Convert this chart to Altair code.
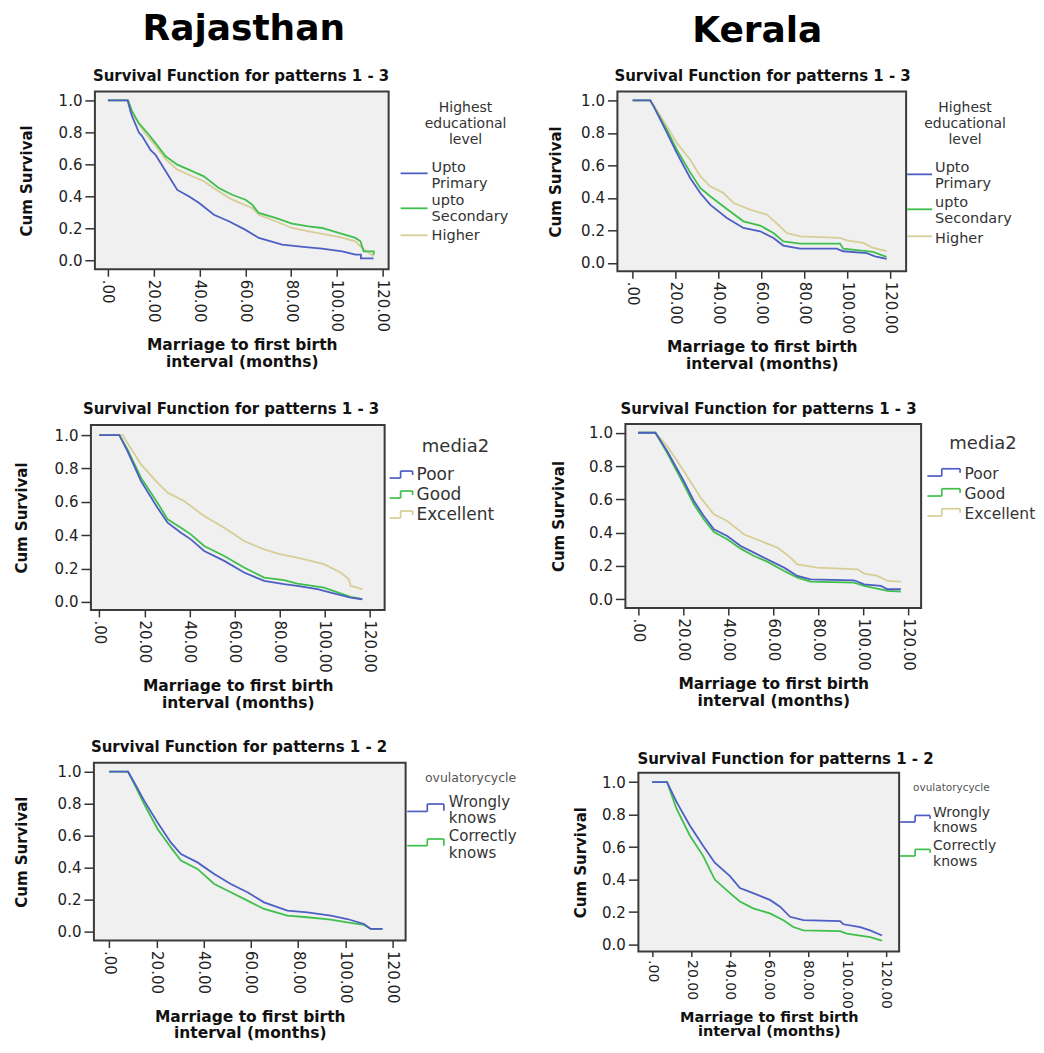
import altair as alt
import pandas as pd

FONT = "DejaVu Sans"
BLUE = "#4d5ec4"
GREEN = "#3fbf4b"
TAN = "#d6cd97"
FRAME_FILL = "#f0f0f0"
FRAME_STROKE = "#3a3a3a"

X_TICKS = [0, 20, 40, 60, 80, 100, 120]
Y_TICKS = [0.0, 0.2, 0.4, 0.6, 0.8, 1.0]
X_TITLE = ["Marriage to first birth", "interval (months)"]
Y_TITLE = "Cum Survival"

# ---------------- Rajasthan : Highest educational level ----------------
RE_PRIM_T = [0, 8.6, 9.9, 10.6, 13.5, 15.0, 18.6, 20.8, 26.6, 30.3, 35.3, 39.7, 46.3, 52.8, 60.1,
             65.9, 76.1, 86.3, 93.5, 102.3, 108.1, 110.5, 110.5, 116.0]
RE_PRIM_S = [1.0, 1.0, 0.93, 0.90, 0.80, 0.775, 0.69, 0.66, 0.525, 0.44, 0.40, 0.36, 0.285, 0.244, 0.19,
             0.14, 0.098, 0.083, 0.073, 0.056, 0.035, 0.035, 0.012, 0.012]
RE_SEC_T = [0, 8.8, 10.6, 13.5, 17.9, 20.8, 25.2, 30.3, 35.3, 41.9, 48.4, 54.3, 60.1, 63.0, 65.9, 73.2,
            80.4, 87.7, 93.5, 100.8, 108.1, 110.3, 111.7, 116.1, 116.1]
RE_SEC_S = [1.0, 1.0, 0.93, 0.858, 0.785, 0.733, 0.65, 0.598, 0.567, 0.525, 0.452, 0.41, 0.379, 0.348,
            0.296, 0.265, 0.229, 0.2125, 0.202, 0.171, 0.14, 0.119, 0.056, 0.056, 0.035]
RE_HIGH_T = [0, 8.8, 10.6, 13.5, 17.9, 20.8, 25.2, 30.3, 35.3, 41.9, 48.4, 54.3, 63.0, 65.9, 73.2, 80.4,
             87.7, 100.8, 108.1, 111.0, 116.1]
RE_HIGH_S = [1.0, 1.0, 0.93, 0.85, 0.765, 0.717, 0.633, 0.567, 0.535, 0.494, 0.431, 0.379, 0.327, 0.285,
             0.244, 0.202, 0.181, 0.146, 0.119, 0.077, 0.025]

# ---------------- Kerala : Highest educational level ----------------
KE_PRIM_T = [0, 8.2, 9.8, 16.0, 20.6, 26.8, 31.5, 36.1, 43.9, 51.6, 59.4, 65.6, 70.2, 78.0, 95.0, 98.1,
             109.0, 112.9, 118.3]
KE_PRIM_S = [1.0, 1.0, 0.963, 0.80, 0.676, 0.523, 0.43, 0.359, 0.277, 0.215, 0.195, 0.154, 0.107, 0.088,
             0.088, 0.072, 0.061, 0.041, 0.025]
KE_SEC_T = [0, 8.2, 9.8, 16.0, 20.6, 26.8, 31.5, 36.1, 43.9, 51.6, 59.4, 65.6, 70.2, 78.0, 96.6, 98.1,
            112.0, 118.3]
KE_SEC_S = [1.0, 1.0, 0.963, 0.816, 0.697, 0.557, 0.461, 0.41, 0.332, 0.256, 0.23, 0.184, 0.133, 0.119,
            0.119, 0.088, 0.068, 0.037]
KE_HIGH_T = [0, 8.2, 9.8, 16.0, 20.6, 26.8, 31.5, 36.1, 42.3, 47.0, 54.7, 62.5, 68.7, 71.8, 78.0, 96.6,
             99.7, 107.4, 112.0, 118.3]
KE_HIGH_S = [1.0, 1.0, 0.97, 0.84, 0.738, 0.635, 0.533, 0.471, 0.43, 0.369, 0.328, 0.297, 0.225, 0.184,
             0.164, 0.154, 0.139, 0.123, 0.092, 0.072]

# ---------------- Rajasthan : media2 ----------------
RM_POOR_T = [0, 8.9, 12.5, 18.5, 25.8, 30.3, 36.2, 40.6, 46.5, 55.4, 64.2, 73.1, 81.9, 87.8, 96.7, 102.6,
             111.4, 116.6]
RM_POOR_S = [1.0, 1.0, 0.904, 0.725, 0.565, 0.475, 0.415, 0.375, 0.305, 0.246, 0.176, 0.126, 0.106, 0.096,
             0.076, 0.056, 0.026, 0.016]
RM_GOOD_T = [0, 8.9, 12.5, 18.5, 25.8, 30.3, 36.2, 40.6, 46.5, 55.4, 64.2, 73.1, 81.9, 87.8, 99.6, 111.4,
             116.6]
RM_GOOD_S = [1.0, 1.0, 0.914, 0.745, 0.595, 0.495, 0.445, 0.405, 0.335, 0.275, 0.206, 0.146, 0.13, 0.11,
             0.086, 0.03, 0.016]
RM_EXC_T = [0, 10.3, 18.5, 25.8, 30.3, 37.6, 46.5, 55.4, 64.2, 73.1, 80.4, 87.8, 99.6, 107.0, 110.7, 111.4,
            116.6]
RM_EXC_S = [1.0, 1.0, 0.824, 0.715, 0.655, 0.605, 0.515, 0.445, 0.365, 0.315, 0.285, 0.265, 0.226, 0.176,
            0.136, 0.096, 0.076]

# ---------------- Kerala : media2 ----------------
KM_POOR_T = [0, 7.7, 12.9, 20.3, 24.8, 29.2, 33.7, 39.6, 45.6, 51.5, 57.4, 64.9, 70.8, 76.7, 96.0, 100.5,
             107.9, 110.9, 116.8]
KM_POOR_S = [1.0, 1.0, 0.89, 0.71, 0.59, 0.50, 0.42, 0.38, 0.32, 0.28, 0.24, 0.19, 0.14, 0.12, 0.114, 0.09,
             0.08, 0.06, 0.06]
KM_GOOD_T = [0, 7.7, 12.9, 20.3, 24.8, 29.2, 33.7, 39.6, 45.6, 51.5, 57.4, 64.9, 70.8, 76.7, 96.0, 100.5,
             110.9, 116.8]
KM_GOOD_S = [1.0, 1.0, 0.88, 0.69, 0.57, 0.48, 0.404, 0.36, 0.304, 0.26, 0.226, 0.17, 0.13, 0.106, 0.10,
             0.08, 0.05, 0.046]
KM_EXC_T = [0, 7.7, 12.9, 20.3, 27.8, 33.7, 39.6, 47.0, 54.5, 61.9, 67.8, 70.8, 79.7, 97.5, 100.5, 106.4,
            110.9, 116.8]
KM_EXC_S = [1.0, 1.0, 0.92, 0.77, 0.61, 0.51, 0.47, 0.39, 0.35, 0.31, 0.25, 0.21, 0.19, 0.18, 0.154, 0.14,
            0.11, 0.106]

# ---------------- Rajasthan : ovulatorycycle ----------------
RO_WRONG_T = [0, 8.0, 10.6, 14.8, 20.5, 26.1, 30.4, 37.4, 44.5, 51.5, 58.6, 65.6, 75.5, 84.0, 93.9, 100.9,
              108.0, 110.8, 115.8]
RO_WRONG_S = [1.0, 1.0, 0.933, 0.819, 0.683, 0.558, 0.485, 0.433, 0.36, 0.298, 0.246, 0.183, 0.131, 0.121,
              0.10, 0.079, 0.048, 0.017, 0.017]
RO_CORR_T = [0, 8.0, 10.6, 14.8, 20.5, 26.1, 30.4, 37.4, 44.5, 51.5, 58.6, 65.6, 75.5, 84.0, 93.9, 100.9,
             108.0, 110.8, 115.8]
RO_CORR_S = [1.0, 1.0, 0.925, 0.798, 0.642, 0.527, 0.444, 0.392, 0.298, 0.246, 0.194, 0.142, 0.10, 0.09,
             0.075, 0.058, 0.042, 0.017, 0.017]

# ---------------- Kerala : ovulatorycycle ----------------
KO_WRONG_T = [0, 7.7, 12.5, 19.4, 26.2, 32.2, 40.0, 45.1, 51.9, 60.5, 65.7, 70.8, 77.7, 96.5, 98.2, 106.8,
              111.9, 118.0]
KO_WRONG_S = [1.0, 1.0, 0.879, 0.733, 0.608, 0.504, 0.421, 0.348, 0.317, 0.275, 0.233, 0.171, 0.15, 0.144,
              0.125, 0.108, 0.0875, 0.056]
KO_CORR_T = [0, 7.7, 12.5, 19.4, 26.2, 32.2, 40.0, 45.1, 51.9, 60.5, 67.4, 72.5, 77.7, 96.5, 99.9, 111.9,
             118.0]
KO_CORR_S = [1.0, 1.0, 0.8375, 0.671, 0.546, 0.40, 0.317, 0.265, 0.223, 0.192, 0.15, 0.108, 0.0875, 0.083,
             0.067, 0.046, 0.025]

ONE = pd.DataFrame({"k": [0]})

# grid cells (column widths, row heights)
COL_W = [315, 304]
ROW_H = [180, 186, 189]


def curves_df(series):
    rows = []
    for name, ts, ss in series:
        for i, (t, s) in enumerate(zip(ts, ss)):
            rows.append({"t": t, "s": s, "g": name, "i": i})
    return pd.DataFrame(rows)


def txt(x, y, s, size, color="#333333", align="left", weight="normal"):
    return alt.Chart(ONE).mark_text(
        text=s, align=align, baseline="middle", font=FONT, fontSize=size,
        fontWeight=weight, color=color
    ).encode(x=alt.value(x), y=alt.value(y))


def seg(x1, y1, x2, y2, color, w=1.7, opacity=1.0):
    return alt.Chart(ONE).mark_rule(color=color, strokeWidth=w, opacity=opacity).encode(
        x=alt.value(x1), y=alt.value(y1), x2=alt.value(x2), y2=alt.value(y2))


class Frame:
    """Places legend pieces relative to a panel frame's top-left corner."""

    def __init__(self, dx, dy):
        self.dx, self.dy = dx, dy

    def t(self, x, y, s, size, **kw):
        return txt(self.dx + x, self.dy + y, s, size, **kw)

    def s(self, x1, y1, x2, y2, color, **kw):
        return seg(self.dx + x1, self.dy + y1, self.dx + x2, self.dy + y2, color, **kw)

    def step(self, x0, xm, x2, ylow, ytop, ydrop, color):
        return [self.s(x0, ylow, xm, ylow, color), self.s(xm, ylow, xm, ytop, color),
                self.s(xm, ytop, x2, ytop, color), self.s(x2, ytop, x2, ydrop, color)]


def panel(series, colors, cw, ch, dx, dy, w, h, xdom, ydom, ytp, title, tx, ty, extras,
          xl=15, xt=15.5, xpad=6, xlh=17, xtick=7):
    df = curves_df(series)
    names = [s[0] for s in series]
    x_axis = alt.Axis(
        values=X_TICKS, labelExpr="datum.value == 0 ? '.00' : format(datum.value, '.2f')",
        labelAngle=90, labelAlign="left", labelBaseline="middle", labelFont=FONT, labelFontSize=xl,
        labelColor="#222222", labelPadding=3, labelFlush=False, labelOverlap=False,
        tickSize=xtick, tickColor="#333333", tickWidth=1.5, domain=False, grid=False,
        offset=(dy + h) - ch,
        title=X_TITLE, titleFont=FONT, titleFontSize=xt, titleFontWeight="bold",
        titleColor="#111111", titlePadding=xpad, titleLineHeight=xlh)
    y_axis = alt.Axis(
        values=Y_TICKS, format=".1f", labelFont=FONT, labelFontSize=15, labelColor="#222222",
        labelPadding=3, labelFlush=False, tickSize=10, tickColor="#333333", tickWidth=1.5,
        domain=False, grid=False, offset=-dx,
        title=Y_TITLE, titleFont=FONT, titleFontSize=15,
        titleFontWeight="bold", titleColor="#111111", titlePadding=ytp)
    frame = alt.Chart(ONE).mark_rect(fill=FRAME_FILL, stroke=FRAME_STROKE, strokeWidth=2).encode(
        x=alt.value(dx), x2=alt.value(dx + w), y=alt.value(dy), y2=alt.value(dy + h))
    lines = alt.Chart(df).mark_line(strokeWidth=1.8).encode(
        x=alt.X("t:Q", scale=alt.Scale(domain=xdom, range=[dx, dx + w], nice=False, zero=False),
                axis=x_axis),
        y=alt.Y("s:Q", scale=alt.Scale(domain=ydom, range=[dy + h, dy], nice=False, zero=False),
                axis=y_axis),
        color=alt.Color("g:N", scale=alt.Scale(domain=names, range=colors), legend=None),
        order=alt.Order("i:Q"))
    layers = [frame, lines, txt(dx + tx, dy + ty, title, 15, color="#111111", weight="bold")] + extras
    return alt.layer(*layers).properties(
        width=cw, height=ch,
        view=alt.ViewBackground(fill="transparent", stroke="transparent"))


def edu_legend(f, cx, ty, lx0, lx1, tx, ys_line, ys_text):
    out = [f.t(cx, ty - 1, "Highest", 14, align="center"),
           f.t(cx, ty + 15, "educational", 14, align="center"),
           f.t(cx, ty + 31, "level", 14, align="center")]
    for yl, c in zip(ys_line, [BLUE, GREEN, TAN]):
        out.append(f.s(lx0, yl, lx1, yl, c, w=1.8))
    labels = ["Upto", "Primary", "upto", "Secondary", "Higher"]
    for y, s in zip(ys_text, labels):
        out.append(f.t(tx, y, s, 14.5))
    return out


# ---------------- panels ----------------
# P1 : Rajasthan / education   cell (90, 90)  frame (94, 90) 294 x 178
f1 = Frame(4, 0)
p1_ext = edu_legend(f1, 371, 18, 306, 333, 337, [82, 117, 144], [76.5, 92.5, 110, 126, 145])
p1_ext += [f1.t(149, -62, "Rajasthan", 36, color="#000000", align="center", weight="bold"),
           seg(-82, -82, -81, -81, "#ffffff", w=0.5, opacity=0)]
P1 = panel([("Higher", RE_HIGH_T, RE_HIGH_S), ("upto Secondary", RE_SEC_T, RE_SEC_S),
            ("Upto Primary", RE_PRIM_T, RE_PRIM_S)], [TAN, GREEN, BLUE],
           COL_W[0], ROW_H[0], 4, 0, 294, 178, [-5.67, 122.6], [-0.056, 1.056], 24,
           "Survival Function for patterns 1 - 3", -2, -15, p1_ext)

# P2 : Kerala / education   cell (617, 90)  frame (617, 90) 289 x 180
f2 = Frame(0, 0)
p2_ext = edu_legend(f2, 348, 18, 290, 315, 318, [83, 118, 145], [77, 93, 112, 128, 148])
p2_ext += [f2.t(140, -60, "Kerala", 36, color="#000000", align="center", weight="bold")]
P2 = panel([("Higher", KE_HIGH_T, KE_HIGH_S), ("upto Secondary", KE_SEC_T, KE_SEC_S),
            ("Upto Primary", KE_PRIM_T, KE_PRIM_S)], [TAN, GREEN, BLUE],
           COL_W[1], ROW_H[0], 0, 0, 289, 180, [-7.1, 127.4], [-0.051, 1.055], 17,
           "Survival Function for patterns 1 - 3", -3, -15, p2_ext)

# P3 : Rajasthan / media   cell (90, 423)  frame (90, 424) 294 x 185
f3 = Frame(0, 1)
p3_ext = [f3.t(365, 22, "media2", 18, align="center")]
for dy_, c, lab in [(0, BLUE, "Poor"), (20, GREEN, "Good"), (40, TAN, "Excellent")]:
    p3_ext += f3.step(299, 310, 322, 53 + dy_, 46 + dy_, 50 + dy_, c)
    p3_ext.append(f3.t(326, 50 + dy_, lab, 17))
P3 = panel([("Excellent", RM_EXC_T, RM_EXC_S), ("Good", RM_GOOD_T, RM_GOOD_S),
            ("Poor", RM_POOR_T, RM_POOR_S)], [TAN, GREEN, BLUE],
           COL_W[0], ROW_H[1], 0, 1, 294, 185, [-3.7, 126.5], [-0.048, 1.06], 25,
           "Survival Function for patterns 1 - 3", -8, -16, p3_ext)

# P4 : Kerala / media   cell (617, 423)  frame (625, 423) 296 x 184
f4 = Frame(8, 0)
p4_ext = [f4.t(358, 19.7, "media2", 18, align="center")]
for dy_, c, lab in [(0, BLUE, "Poor"), (20, GREEN, "Good"), (40, TAN, "Excellent")]:
    p4_ext += f4.step(302.3, 316.7, 335, 52 + dy_, 44.7 + dy_, 48.7 + dy_, c)
    p4_ext.append(f4.t(339.5, 49.7 + dy_, lab, 15.5))
P4 = panel([("Excellent", KM_EXC_T, KM_EXC_S), ("Good", KM_GOOD_T, KM_GOOD_S),
            ("Poor", KM_POOR_T, KM_POOR_S)], [TAN, GREEN, BLUE],
           COL_W[1], ROW_H[1], 8, 0, 296, 184, [-5.64, 125.8], [-0.052, 1.052], 22,
           "Survival Function for patterns 1 - 3", -5, -15, p4_ext)

# P5 : Rajasthan / ovulatory cycle   cell (90, 762)  frame (93, 762) 312 x 178
f5 = Frame(3, 0)
p5_ext = [f5.t(377, 15.3, "ovulatorycycle", 12.5, color="#555555", align="center")]
p5_ext += f5.step(313.7, 333.7, 350.3, 48.7, 41.3, 48, BLUE)
p5_ext += f5.step(313.7, 333.7, 350.3, 83, 76.3, 83, GREEN)
p5_ext += [f5.t(355.3, 39, "Wrongly", 15), f5.t(355.3, 55.5, "knows", 15),
           f5.t(355.3, 73.5, "Correctly", 15), f5.t(355.3, 90, "knows", 15)]
P5 = panel([("Correctly knows", RO_CORR_T, RO_CORR_S), ("Wrongly knows", RO_WRONG_T, RO_WRONG_S)],
           [GREEN, BLUE], COL_W[0], ROW_H[2], 3, 0, 312, 178, [-6.48, 125.6], [-0.056, 1.056], 28,
           "Survival Function for patterns 1 - 2", -3, -16, p5_ext)

# P6 : Kerala / ovulatory cycle   cell (617, 762)  frame (638, 772) 261 x 179
f6 = Frame(21, 10)
p6_ext = [f6.t(313.3, 15, "ovulatorycycle", 10.5, color="#555555", align="center")]
p6_ext += f6.step(262, 277, 292, 49.3, 42.7, 46, BLUE)
p6_ext += f6.step(262, 277, 292, 83.3, 76.7, 80, GREEN)
p6_ext += [f6.t(295, 40, "Wrongly", 14), f6.t(295, 55.5, "knows", 14),
           f6.t(295, 73.5, "Correctly", 14), f6.t(295, 89, "knows", 14)]
P6 = panel([("Correctly knows", KO_CORR_T, KO_CORR_S), ("Wrongly knows", KO_WRONG_T, KO_WRONG_S)],
           [GREEN, BLUE], COL_W[1], ROW_H[2], 21, 10, 261, 179, [-7.0, 126.8], [-0.043, 1.057], 13,
           "Survival Function for patterns 1 - 2", -1, -13.3, p6_ext,
           xl=14, xt=14.5, xpad=2, xlh=14.5, xtick=5)

chart = alt.concat(P1, P2, P3, P4, P5, P6, columns=2, spacing={"row": 153, "column": 212},
                   bounds="flush").resolve_scale(color="independent").properties(padding=0)

chart.save("out.html", embed_options={"renderer": "svg", "actions": False})
